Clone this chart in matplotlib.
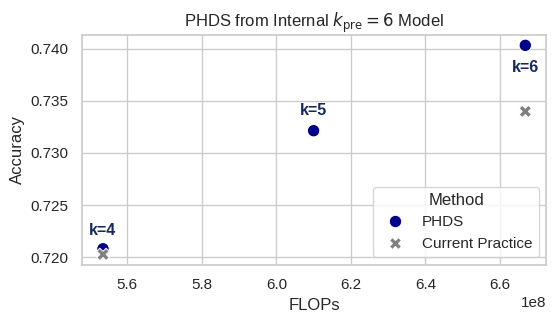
import numpy as np
import pandas as pd
import seaborn as sns
from matplotlib import pyplot as plt

# values
k_values = [4, 5, 6]
phds_flops = [5.535e8, 6.10e8, 6.668e8]
phds_acc = [0.7208, 0.73213, 0.74032]
cp_flops = [5.535e8, 6.668e8]
cp_acc = [0.72026, 0.73398]

sns.set_theme(style="whitegrid")
plt.rcParams['font.family'] = ['Liberation Sans', 'DejaVu Sans']

df = pd.DataFrame({
    "FLOPs": phds_flops + cp_flops,
    "Accuracy": phds_acc + cp_acc,
    "Method": ["PHDS"] * len(phds_flops) + ["Current Practice"] * len(cp_flops),
})

fig, ax = plt.subplots(figsize=(5.57, 3.23), dpi=100)
sns.scatterplot(data=df, x="FLOPs", y="Accuracy", hue="Method", style="Method",
                palette={"PHDS": "darkblue", "Current Practice": "gray"},
                markers={"PHDS": "o", "Current Practice": "X"},
                s=80, ax=ax)

# label offsets in points (k=6 sits below its point)
offsets = [9.6, 11.5, -19.2]
for k, x, y, dy in zip(k_values, phds_flops, phds_acc, offsets):
    ax.annotate(f"k={k}", (x, y), xytext=(0, dy), textcoords="offset points",
                ha="center", va="baseline", fontsize=11.5, fontweight="bold",
                color="#14295e")

ax.set_title(r"PHDS from Internal $k_{\rm pre} = 6$ Model", fontsize=12)
ax.set_xlabel("FLOPs", fontsize=12)
ax.set_ylabel("Accuracy", fontsize=12)
ax.legend(title="Method", loc="lower right")

fig.subplots_adjust(left=0.147, right=0.981, top=0.892, bottom=0.18)
fig.savefig("out.png", dpi=100)
